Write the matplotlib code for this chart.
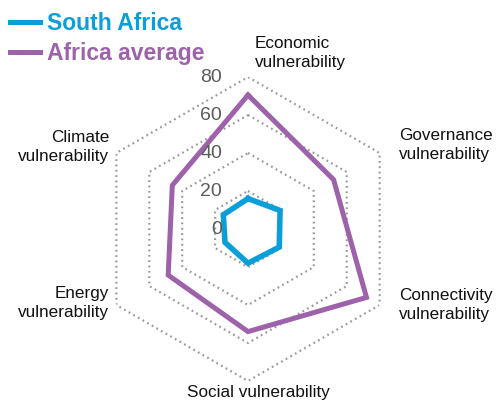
import numpy as np
import matplotlib
matplotlib.use("Agg")
import matplotlib.pyplot as plt
from matplotlib.transforms import offset_copy
from matplotlib.lines import Line2D

categories = ["Economic\nvulnerability", "Governance\nvulnerability", "Connectivity\nvulnerability",
              "Social vulnerability", "Energy\nvulnerability", "Climate\nvulnerability"]
south_africa = [16, 19.5, 19, 18, 14, 15]
africa_average = [70.5, 52, 72, 54, 48.5, 46]
ring_values = [20, 40, 60, 80]
tick_labels = ["0", "20", "40", "60", "80"]
tick_values = [0, 20, 40, 60, 80]

BLUE = "#0A9FD9"
PURPLE = "#9D62A9"
GRID = "#9a9a9a"
FONT = ["Liberation Sans Narrow", "Liberation Sans", "DejaVu Sans"]
plt.rcParams["font.family"] = FONT

fig = plt.figure(figsize=(4.96, 4.05), dpi=100)
ax = fig.add_axes([96/496, 24/405, 304/496, 304/405], projection="polar")
ax.set_theta_zero_location("N")
ax.set_theta_direction(-1)
ax.set_ylim(0, 80)
ax.grid(False)
ax.spines["polar"].set_visible(False)
ax.set_xticks([])
ax.set_yticks([])
ax.patch.set_alpha(0)

n = len(categories)
angles = np.linspace(0, 2*np.pi, n, endpoint=False)
closed = np.concatenate([angles, angles[:1]])

for rv in ring_values:
    ax.plot(closed, [rv]*(n+1), color=GRID, lw=1.6, ls=(0, (0.8, 1.6)), zorder=1)

def close(v):
    return list(v) + [v[0]]

ax.plot(closed, close(africa_average), color=PURPLE, lw=3.6, zorder=3, solid_joinstyle="miter")
ax.plot(closed, close(south_africa), color=BLUE, lw=4.0, zorder=4, solid_joinstyle="miter")

# radial tick labels
tr = offset_copy(ax.transData, fig=fig, x=-26, y=0, units="dots")
for v, s in zip(tick_values, tick_labels):
    ax.text(0, v, s, transform=tr, ha="right", va="center", fontsize=14, color="#5a5a5a", zorder=5)

# category labels
offsets = [(7, 7, "left", "bottom"), (19, 8, "left", "center"), (19, 0, "left", "center"),
           (10, -4, "center", "top"), (-7, 2, "right", "center"), (-7, 6, "right", "center")]
for ang, lab, (dx, dy, ha, va) in zip(angles, categories, offsets):
    t = offset_copy(ax.transData, fig=fig, x=dx, y=dy, units="dots")
    ax.text(ang, 80, lab, transform=t, ha=ha, va=va, fontsize=12.3, color="#111111",
            multialignment=ha if ha != "center" else "center", linespacing=1.3)

handles = [Line2D([0], [0], color=BLUE, lw=3.6), Line2D([0], [0], color=PURPLE, lw=3.6)]
leg = fig.legend(handles, ["South Africa", "Africa average"], loc="upper left",
                 bbox_to_anchor=(10/496, 1 - 12/405), frameon=False, handlelength=1.3,
                 handletextpad=0.3, labelspacing=0.3, borderaxespad=0, borderpad=0,
                 prop={"family": FONT, "weight": "bold", "size": 16.5})
for txt, c in zip(leg.get_texts(), [BLUE, PURPLE]):
    txt.set_color(c)

fig.savefig("out.png", dpi=100)
